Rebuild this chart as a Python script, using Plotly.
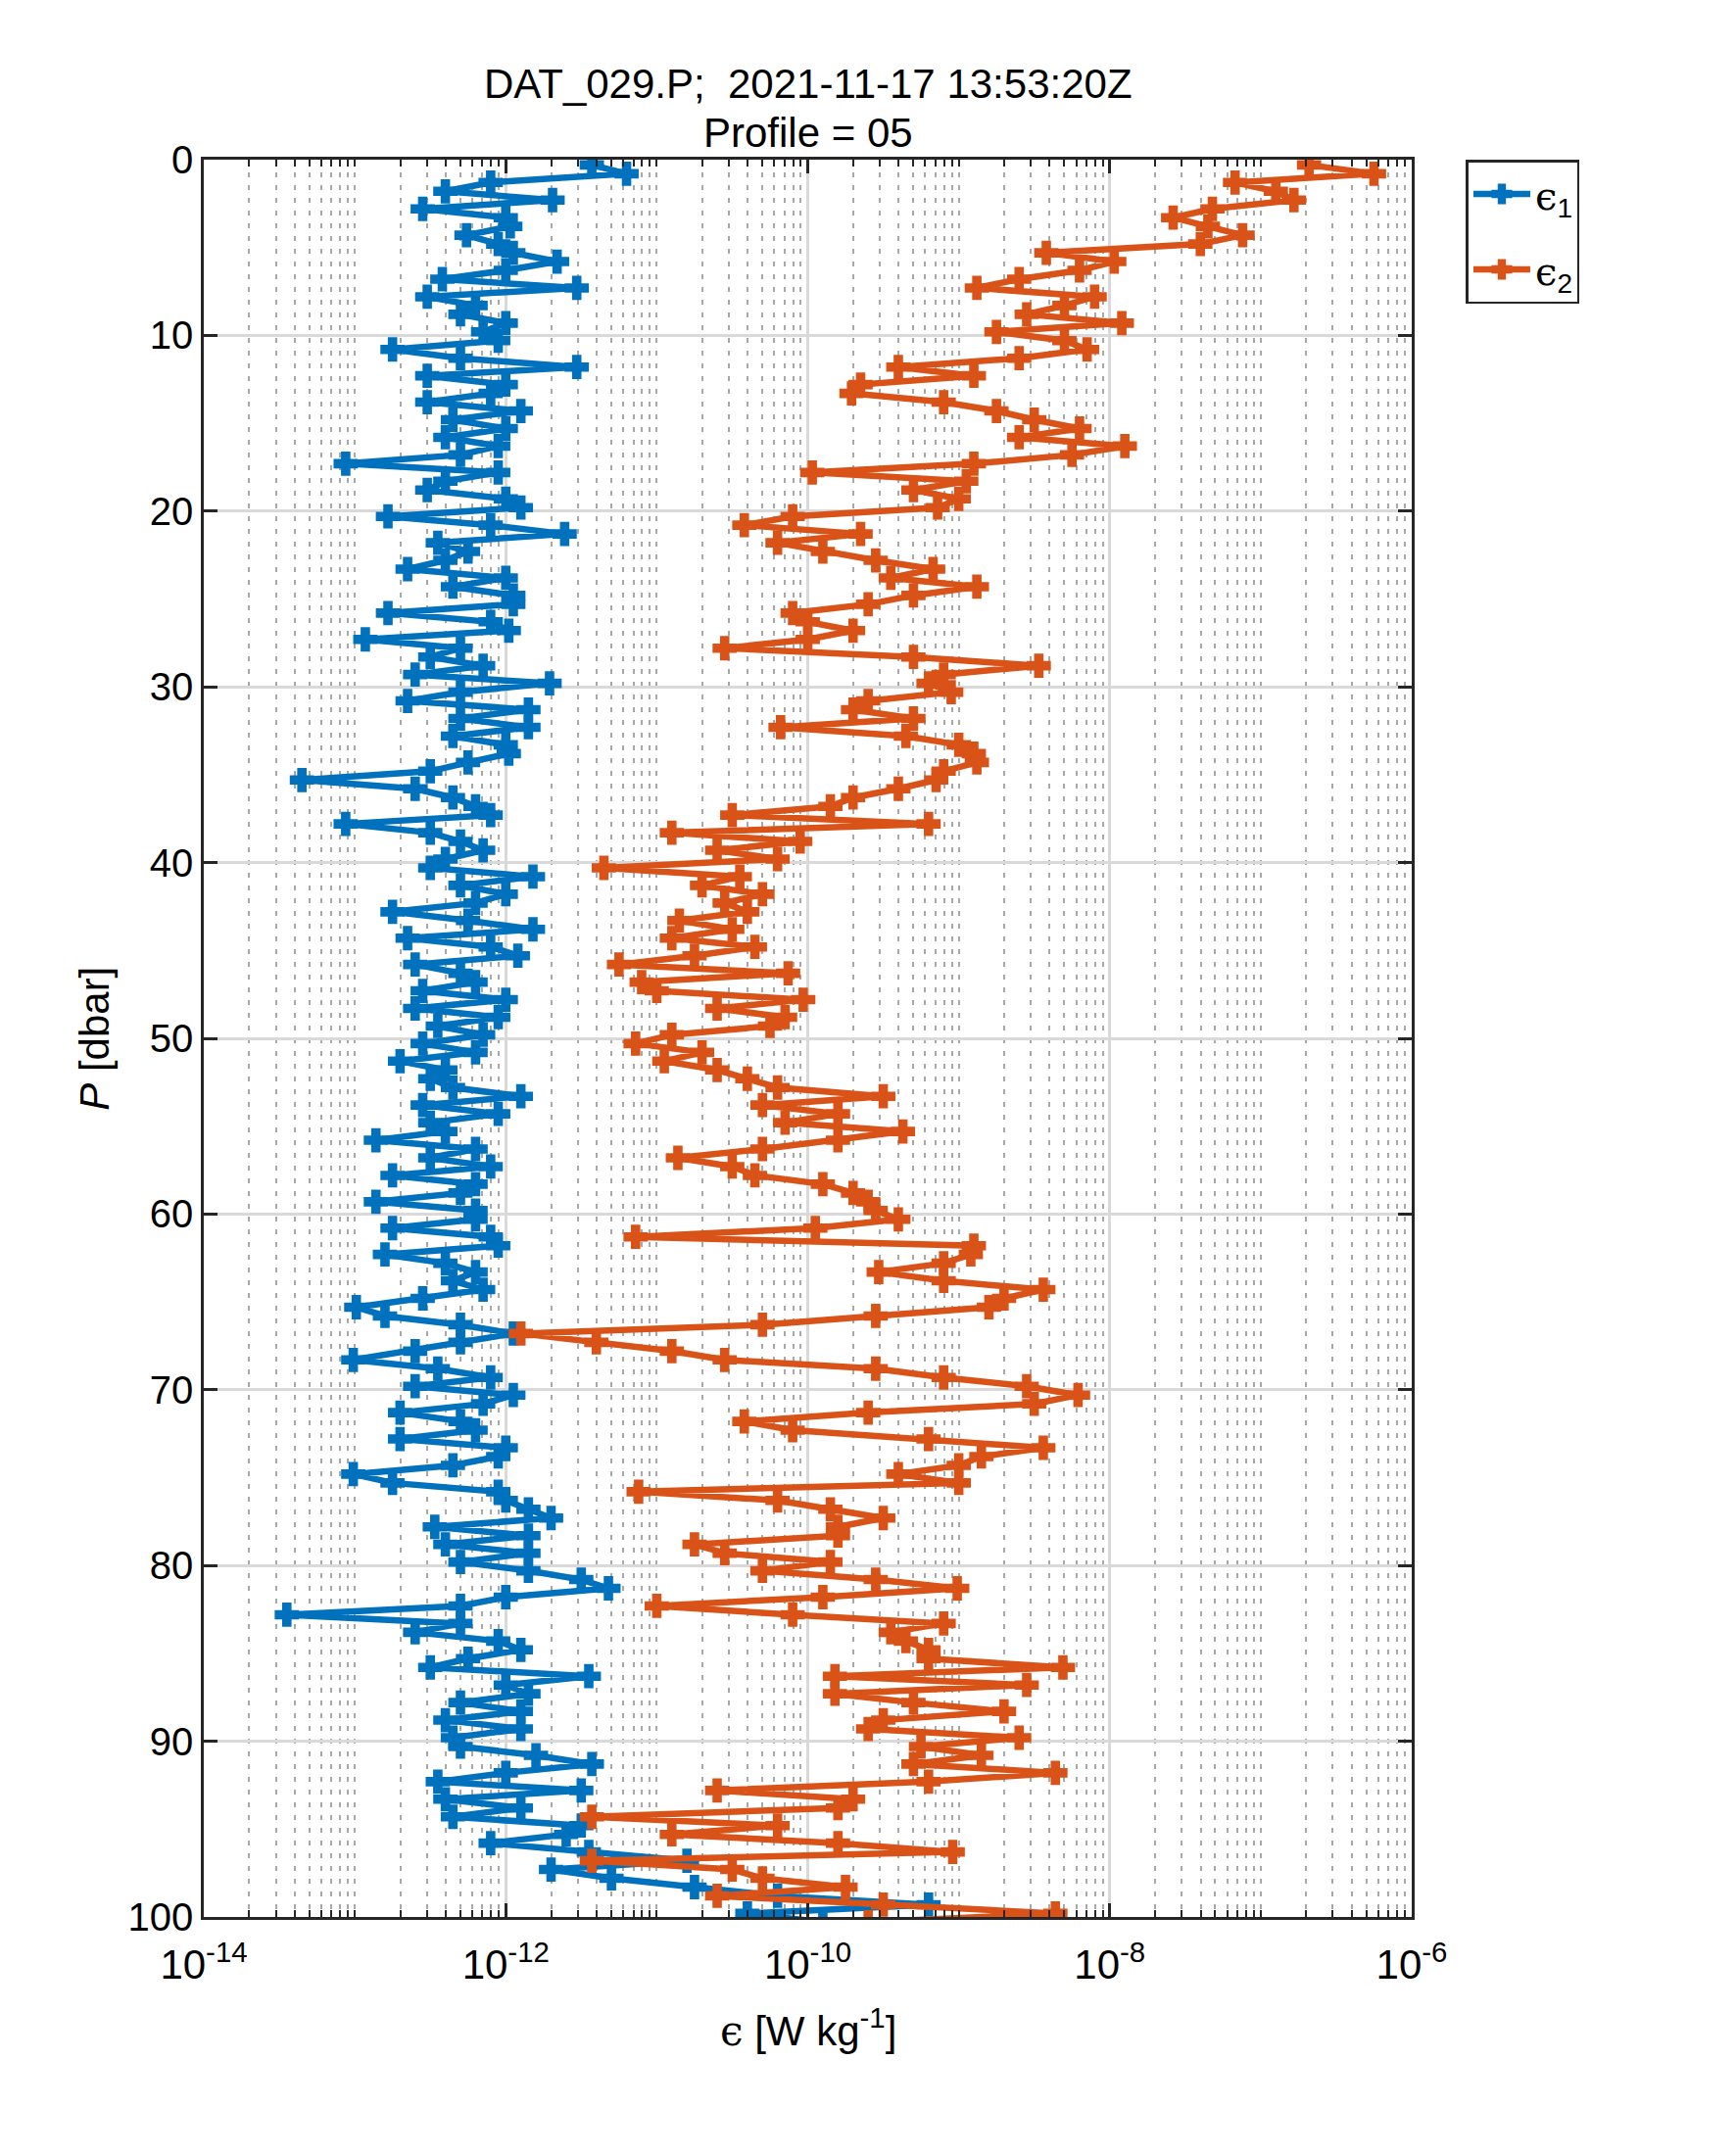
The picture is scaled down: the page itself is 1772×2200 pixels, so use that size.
import plotly.graph_objects as go

# log10 of dissipation rate, one value per 0.5 dbar bin starting at 0.3 dbar
eps1_log = [
    -11.43, -11.2, -12.1, -12.4, -11.69, -12.55, -12.0, -11.97, -12.26, -12.05,
    -11.95, -11.66, -12.0, -12.42, -11.53, -12.52, -12.2, -12.3, -12.0, -12.15,
    -12.05, -12.75, -12.3, -11.53, -12.52, -12.0, -12.1, -12.52, -11.9, -12.35,
    -12.0, -12.4, -12.05, -12.3, -13.06, -12.05, -12.4, -12.52, -12.0, -11.9,
    -12.78, -12.1, -11.61, -12.45, -12.25, -12.4, -12.65, -12.0, -12.35, -11.95,
    -11.95, -12.78, -12.1, -11.98, -12.93, -12.3, -12.5, -12.15, -12.6, -11.71,
    -12.3, -12.65, -11.85, -12.3, -11.85, -12.35, -12.0, -11.98, -12.25, -12.5,
    -13.35, -12.6, -12.35, -12.2, -12.1, -13.06, -12.5, -12.3, -12.15, -12.4,
    -12.5, -11.82, -12.3, -12.0, -12.2, -12.75, -12.25, -11.82, -12.65, -12.1,
    -11.92, -12.6, -12.3, -12.2, -12.55, -12.0, -12.6, -12.05, -12.45, -12.15,
    -12.55, -12.2, -12.7, -12.4, -12.5, -12.35, -11.9, -12.55, -12.05, -12.5,
    -12.4, -12.86, -12.2, -12.5, -12.1, -12.75, -12.2, -12.3, -12.86, -12.2,
    -12.2, -12.75, -12.1, -12.05, -12.8, -12.4, -12.2, -12.35, -12.15, -12.55,
    -12.99, -12.8, -12.3, -11.95, -12.3, -12.6, -13.01, -12.45, -12.1, -12.6,
    -11.95, -12.15, -12.7, -12.3, -12.2, -12.7, -12.0, -12.05, -12.35, -13.01,
    -12.75, -12.05, -12.0, -11.85, -11.7, -12.47, -11.85, -12.4, -11.85, -12.3,
    -11.85, -11.5, -11.32, -12.0, -12.3, -13.45, -12.3, -12.6, -12.05, -11.9,
    -12.25, -12.5, -11.45, -12.0, -11.85, -12.3, -11.9, -12.4, -11.9, -12.35,
    -12.3, -11.8, -11.43, -12.0, -12.45, -11.5, -12.4, -11.9, -12.35, -11.5,
    -11.6, -12.1, -11.45, -10.8, -11.7, -11.3, -10.75, -10.2, -9.2, -10.4,
    -9.9,
]

eps2_log = [
    -6.68, -6.25, -7.17, -6.9, -6.78, -7.32, -7.58, -7.35, -7.12, -7.4,
    -8.42, -7.97, -8.2, -8.6, -8.88, -8.1, -8.3, -8.55, -7.92, -8.75,
    -8.3, -8.15, -8.6, -9.4, -8.9, -9.65, -9.71, -9.1, -8.75, -8.5,
    -8.2, -8.6, -7.9, -8.25, -8.9, -9.97, -8.95, -9.3, -9.0, -9.14,
    -10.1, -10.42, -9.65, -10.2, -9.9, -9.55, -9.17, -9.45, -8.88, -9.3,
    -9.6, -10.1, -10.0, -9.7, -10.0, -10.55, -9.3, -8.47, -9.1, -9.2,
    -9.05, -9.6, -9.7, -9.3, -10.18, -9.35, -9.0, -8.9, -8.88, -9.1,
    -9.15, -9.4, -9.7, -9.85, -10.5, -9.2, -10.9, -10.05, -10.6, -10.2,
    -11.35, -10.45, -10.7, -10.3, -10.55, -10.4, -10.85, -10.5, -10.9, -10.35,
    -10.75, -11.25, -10.13, -11.1, -11.0, -10.03, -10.6, -10.15, -10.25, -10.9,
    -11.14, -10.7, -10.95, -10.6, -10.4, -10.2, -9.5, -10.3, -9.8, -10.15,
    -9.37, -9.8, -10.3, -10.86, -10.5, -10.35, -9.9, -9.7, -9.6, -9.55,
    -9.4, -9.95, -11.14, -8.9, -8.92, -9.1, -9.53, -9.1, -8.44, -8.7,
    -8.8, -9.55, -10.3, -11.9, -11.4, -10.9, -10.55, -9.55, -9.1, -8.55,
    -8.21, -8.5, -9.6, -10.42, -10.1, -9.2, -8.44, -8.85, -9.0, -9.4,
    -9.0, -11.12, -10.2, -9.85, -9.5, -9.8, -9.8, -10.75, -10.55, -9.85,
    -10.3, -9.55, -9.01, -9.9, -11.0, -10.1, -9.1, -9.45, -9.35, -9.2,
    -9.2, -8.31, -9.82, -8.55, -9.82, -9.3, -8.7, -9.5, -9.6, -8.6,
    -9.25, -8.85, -9.3, -8.36, -9.2, -10.6, -9.7, -9.8, -11.43, -10.2,
    -10.9, -9.8, -9.04, -11.43, -10.5, -10.3, -9.75, -10.6, -9.5, -8.36,
    -9.6,
]

# pressure bins (dbar)
P = [round(0.3 + 0.5 * i, 2) for i in range(len(eps1_log))]

x_ticks = [1e-14, 1e-12, 1e-10, 1e-8, 1e-6]
x_exps = ["-14", "-12", "-10", "-8", "-6"]
y_ticks = [0, 10, 20, 30, 40, 50, 60, 70, 80, 90, 100]

FONT = "Liberation Sans, Arial, Helvetica, sans-serif"
BLUE = "#0072BD"
ORANGE = "#D95319"
AXC = "#262626"
EPS = "<span style='font-family:DejaVu Serif'>ϵ</span>"

x_ticktext = ["10<sup>%s</sup>" % e for e in x_exps]
minor_vals = [m * 10.0 ** e for e in range(-14, -6) for m in range(1, 10)
              if not (m == 1 and e % 2 == 0)]

fig = go.Figure()
for vals, name, color in [(eps1_log, EPS + "<sub>1</sub>", BLUE),
                          (eps2_log, EPS + "<sub>2</sub>", ORANGE)]:
    fig.add_trace(go.Scatter(
        x=[10 ** v for v in vals], y=P, mode="lines+markers", name=name,
        legendgroup=name,
        line=dict(color=color, width=6.5),
        marker=dict(symbol="cross", size=19, color=color,
                    line=dict(width=2, color=color)),
    ))

fig.update_xaxes(
    type="log", range=[-14, -6],
    tickvals=x_ticks, ticktext=x_ticktext,
    ticks="inside", ticklen=14, tickwidth=2.5, tickcolor=AXC,
    showline=True, linecolor=AXC, linewidth=2.5, mirror="ticks",
    showgrid=True, gridcolor="#d9d9d9", gridwidth=2.5,
    tickfont=dict(family=FONT, size=42, color="black"),
    ticklabelstandoff=10,
    minor=dict(tickvals=minor_vals, ticks="inside", ticklen=7, tickwidth=2,
               tickcolor=AXC, showgrid=True, gridcolor="#a8a8a8",
               gridwidth=1.8, griddash="5px,8px"),
    zeroline=False,
)
fig.update_yaxes(
    range=[100, 0], tickvals=y_ticks,
    ticks="inside", ticklen=14, tickwidth=2.5, tickcolor=AXC,
    showline=True, linecolor=AXC, linewidth=2.5, mirror="ticks",
    showgrid=True, gridcolor="#d9d9d9", gridwidth=2.5,
    tickfont=dict(family=FONT, size=40, color="black"),
    zeroline=False,
)

fig.update_layout(
    width=1772, height=2200,
    margin=dict(l=200, r=339, t=155, b=251),
    paper_bgcolor="white", plot_bgcolor="white",
    font=dict(family=FONT, color="black"),
    showlegend=True,
    legend=dict(x=1.045, y=1.0, xanchor="left", yanchor="top",
                bordercolor=AXC, borderwidth=2.5, bgcolor="white",
                font=dict(family=FONT, size=40, color="black"),
                itemwidth=58, tracegroupgap=22),
    annotations=[
        dict(text="DAT_029.P;\u00a0 2021-11-17 13:53:20Z", xref="paper", yref="paper",
             x=0.5, y=1.043, xanchor="center", yanchor="middle", showarrow=False,
             font=dict(family=FONT, size=42, color="black")),
        dict(text="Profile = 05", xref="paper", yref="paper",
             x=0.5, y=1.0156, xanchor="center", yanchor="middle", showarrow=False,
             font=dict(family=FONT, size=42, color="black")),
        dict(text="<i>P</i> [dbar]", xref="paper", yref="paper",
             x=-0.091, y=0.5, xanchor="center", yanchor="middle", textangle=-90,
             showarrow=False, font=dict(family=FONT, size=42, color="black")),
        dict(text=EPS + " [W kg<sup>-1</sup>]", xref="paper", yref="paper",
             x=0.5, y=-0.063, xanchor="center", yanchor="middle",
             showarrow=False, font=dict(family=FONT, size=42, color="black")),
    ],
)

fig.write_html("out.html")
